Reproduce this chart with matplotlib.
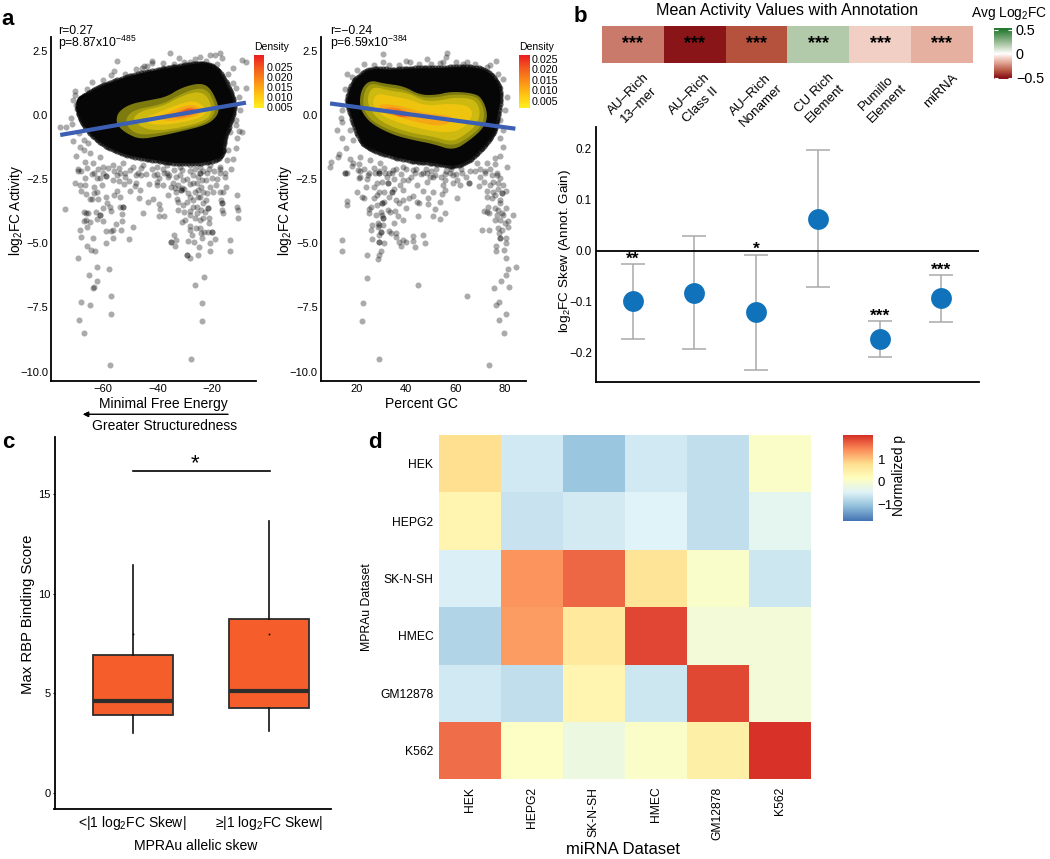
import numpy as np
import matplotlib
matplotlib.use("Agg")
import matplotlib.pyplot as plt
from matplotlib.colors import LinearSegmentedColormap, Normalize

plt.rcParams['font.family'] = ['Liberation Sans', 'DejaVu Sans']
plt.rcParams['mathtext.default'] = 'regular'

W, H = 1050, 859

# panel a, left : minimal free energy
mfe_points = [(-74.0,-3.66),(-70.5,-2.64),(-68.4,-2.73),(-66.5,-2.74),(-68.2,-2.95),(-66.2,-3.09),(-65.0,-3.26),(-64.2,-3.26),
    (-61.8,-3.29),(-67.2,-3.78),(-66.2,-3.81),(-65.5,-3.83),(-62.6,-3.79),(-61.1,-3.91),(-61.1,-3.91),(-60.1,-3.64),(-58.4,-3.44),
    (-57.6,-3.57),(-56.9,-3.76),(-53.6,-3.60),(-52.5,-3.60),(-52.5,-3.60),(-53.2,-3.87),(-52.9,-4.13),(-55.1,-4.25),(-53.5,-4.47),
    (-48.8,-4.38),(-50.4,-4.84),(-56.4,-4.80),(-58.9,-5.00),(-58.9,-4.52),(-57.0,-4.51),(-56.2,-4.50),(-60.2,-4.13),(-62.3,-4.07),
    (-65.0,-4.19),(-66.0,-4.38),(-67.2,-4.12),(-66.4,-4.08),(-68.4,-4.50),(-68.3,-4.77),(-63.8,-4.81),(-66.1,-5.11),(-64.4,-5.26),
    (-62.8,-5.32),(-69.1,-5.58),(-62.1,-5.93),(-57.9,-6.02),(-65.1,-6.23),(-62.3,-6.47),(-63.8,-6.75),(-63.3,-6.71),(-56.9,-7.05),
    (-68.0,-7.28),(-64.9,-7.41),(-57.0,-7.75),(-68.8,-8.01),(-67.2,-8.49),(-57.3,-9.75),(-45.4,-3.82),(-46.7,-3.24),(-43.3,-3.39),
    (-41.7,-3.26),(-39.3,-3.48),(-39.1,-3.66),(-39.3,-3.95),(-37.5,-3.93),(-46.2,-2.94),(-50.2,-2.98),(-52.2,-2.68),(-54.8,-2.96),
    (-56.0,-3.12),(-59.0,-3.18),(-53.7,-3.20),(-60.5,-2.72),(-63.2,-2.82),(-62.3,-2.99),(-63.5,-3.05),(-66.6,-2.46),(-56.2,-2.53),
    (-54.1,-2.57),(-50.5,-2.56),(-48.4,-2.77),(-47.9,-2.64),(-43.0,-2.70),(-40.0,-2.60),(-40.2,-2.73),(-38.0,-2.73),(-39.2,-2.47),
    (-36.5,-2.25),(-35.5,-2.35),(-37.4,-2.27),(-41.4,-2.33),(-47.3,-2.25),(-46.1,-2.34),(-51.9,-2.25),(-53.7,-2.27),(-54.9,-2.33),
    (-59.1,-2.36),(-59.1,-2.36),(-61.1,-2.47),(-62.3,-2.47),(-63.5,-2.25),(-69.1,-2.18),(-33.7,-4.69),(-35.0,-4.97),(-35.0,-4.97),
    (-33.2,-4.89),(-33.4,-5.11),(-28.7,-4.90),(-26.6,-4.95),(-24.6,-5.13),(-25.1,-5.45),(-29.2,-5.46),(-29.2,-5.46),(-28.0,-5.59),
    (-20.6,-5.00),(-18.8,-4.83),(-20.6,-5.30),(-13.3,-4.89),(-13.3,-5.30),(-22.8,-6.33),(-26.2,-6.62),(-23.4,-7.32),(-23.4,-8.02),
    (-27.4,-9.52),(-10.6,-3.13),(-10.6,-3.57),(-10.1,-3.70),(-10.1,-4.03),(-15.6,-3.83),(-16.3,-3.70),(-16.3,-3.44),(-16.3,-3.44),
    (-16.6,-3.31),(-15.6,-3.02),(-16.9,-2.99),(-14.8,-2.82),(-18.3,-2.74),(-19.3,-2.99),(-32.2,-3.70),(-30.1,-3.77),(-27.9,-3.73),
    (-30.4,-3.51),(-32.2,-3.38),(-32.8,-3.29),(-31.4,-2.92),(-31.4,-2.92),(-31.0,-2.86),(-34.1,-2.64),(-33.4,-2.86),(-27.9,-3.18),
    (-26.7,-3.31),(-25.5,-3.57),(-23.0,-3.44),(-21.2,-3.64),(-21.2,-3.64),(-22.4,-3.77),(-25.5,-3.83),(-29.8,-4.09),(-31.0,-4.16),
    (-27.9,-4.33),(-27.9,-4.48),(-25.8,-4.42),(-24.2,-4.42),(-20.9,-4.22),(-23.0,-4.03),(-24.2,-4.09),(-27.3,-4.68),(-23.6,-4.81),
    (-24.0,-4.61),(-22.8,-4.55),(-21.2,-4.55),(-19.7,-4.55),(-19.7,-4.55),(-21.8,-3.05),(-20.6,-2.79),(-24.2,-2.27),(-24.2,-2.27),
    (-25.5,-2.66),(-24.9,-2.92),(-24.2,-3.18),(-28.5,-3.05),(-30.4,-2.53),(-32.2,-2.73),(-31.6,-2.34),(-23.6,-2.53),(-26.7,-2.34),
    (-21.8,-2.27),(-16.9,-2.27),(-15.0,-2.25),(-75.8,-0.48),(-73.8,-0.46),(-71.5,-0.37),(-70.3,0.95),(-70.3,0.78),(-68.5,0.58),
    (-68.5,0.32),(-69.5,0.22),(-67.9,0.0),(-55.0,2.09),(-55.9,1.71),(-45.8,1.84),(-43.9,1.91),(-41.8,2.10),(-41.8,2.02),(-37.8,2.01),
    (-35.3,2.40),(-32.0,2.21),(-27.9,2.05),(-24.3,2.27),(-20.6,2.34),(-18.7,2.34),(-16.9,2.40),(-16.3,2.21),(-12.0,1.84),(-8.7,2.14),
    (-7.3,2.05),(-11.0,1.06),(-7.3,1.06),(-12.0,0.58),(-9.8,-0.61),(-8.7,-0.65),(-13.2,-0.65),(-14.4,-0.39),(-10.8,-0.20),(-67.2,-0.98),
    (-65.4,-1.11),(-68.5,-1.24),(-67.2,-1.37),(-66.6,-1.82),(-69.1,-2.11),(-61.1,-1.63),(-63.6,-1.89),(-59.9,-2.02),(-56.2,-1.95),
    (-52.5,-1.89),(-48.8,-2.02),(-45.1,-1.95),(-40.2,-2.02),(-36.5,-1.95),(-31.6,-2.02),(-27.9,-1.95),(-24.3,-2.02),(-20.6,-1.95),
    (-16.9,-2.02),(-14.4,-1.76),(-13.8,-1.37),(-64.8,-1.50)]
mfe_dense = [(-68,-2.2),(-66,-2.05),(-64,-2.3),(-62,-2.1),(-60,-2.25),(-58,-2.05),(-56,-2.2),(-54,-2.05),(-52,-2.4),(-50,-2.15),(-48,-2.35),
    (-46,-2.05),(-44,-2.3),(-42,-2.1),(-40,-2.3),(-38,-2.1),(-36,-2.4),(-34,-2.15),(-33,-2.4),(-31,-2.15),(-29,-2.5),(-28,-2.2),(-27,-2.65),
    (-26,-2.1),(-25,-2.4),(-24,-2.8),(-23,-2.2),(-22,-2.55),(-21,-2.1),(-20,-2.45),(-19,-2.2),(-18,-2.5),(-17,-2.1),(-15,-2.4),(-13,-2.1),
    (-12,-1.7),(-11,-1.3),(-10.5,-0.9),(-70,-1.6),(-71,-1.0),(-69,-0.7),(-72,-0.1),(-70,0.4),(-71,0.6),(-66,1.0),(-64,1.3),(-60,1.35),(-57,1.55),
    (-52,1.6),(-48,1.8),(-45,1.9),(-38,1.85),(-34,2.0),(-30,2.05),(-26,2.2),(-22,2.1),(-18,2.0),(-14,1.6),(-12,1.25),(-10,0.7),(-9.5,0.2),(-11,-0.4),
    (-30,-2.9),(-28,-2.7),(-26,-3.0),(-29,-3.4),(-27,-3.6),(-25,-3.2),(-23,-3.0),(-22,-3.3),(-21,-4.0),(-26,-4.0),(-28,-3.9),(-24,-3.7),(-33,-3.0),
    (-35,-2.8),(-36,-3.1)]
mfe_fit_x = [-75.8, -7.3]
mfe_fit_y = [-0.78, 0.48]
mfe_cloud = [(-69.1,0.58),(-67.2,0.71),(-62.3,1.04),(-56.2,1.30),(-48.8,1.56),(-40.2,1.75),(-32.9,1.88),(-25.5,2.01),(-20.6,1.95),
    (-16.9,1.69),(-13.2,0.97),(-11.4,0.32),(-13.2,-0.33),(-15.7,-0.98),(-15.7,-1.63),(-23.0,-1.89),(-32.9,-1.89),(-40.2,-1.76),
    (-48.8,-1.63),(-56.2,-1.37),(-62.3,-0.98),(-66.6,-0.46),(-69.1,0.06)]
mfe_bands = [
    [(-55.2,-0.20),(-54.3,0.13),(-50.0,0.43),(-42.7,0.58),(-36.5,0.71),(-31.6,1.04),(-25.5,1.23),(-21.8,1.17),(-19.3,0.84),(-17.1,0.26),
     (-18.1,-0.07),(-21.8,-0.39),(-31.6,-0.65),(-39.0,-0.82),(-46.4,-0.95),(-51.3,-0.72),(-54.3,-0.46)],
    [(-52,-0.2),(-49,0.2),(-38,0.42),(-32,0.78),(-25.5,1.05),(-21.5,0.98),(-19,0.5),(-18.5,0.15),(-20.5,-0.2),(-25,-0.42),(-33,-0.6),(-40,-0.72),
     (-46,-0.78),(-50,-0.6)],
    [(-48.8,-0.07),(-45.1,0.19),(-37.8,0.35),(-31.6,0.71),(-25.5,0.92),(-21.8,0.78),(-19.8,0.3),(-20.6,-0.07),(-24.3,-0.30),(-32.9,-0.52),
     (-40.2,-0.61),(-45.1,-0.52),(-48.2,-0.26)],
    [(-45.1,-0.13),(-39.0,0.13),(-32.9,0.39),(-26.7,0.58),(-22.4,0.32),(-21.8,0.06),(-25.5,-0.17),(-34.1,-0.35),(-40.2,-0.39),(-43.9,-0.30)],
    [(-40.2,-0.13),(-34.1,0.19),(-27.9,0.43),(-23.6,0.26),(-24.3,0.0),(-29.2,-0.13),(-35.3,-0.26)],
    [(-35.3,-0.07),(-31.0,0.22),(-26.7,0.32),(-24.5,0.17),(-26.7,0.0),(-31.6,-0.13)],
    [(-31.6,0.09),(-28.6,0.27),(-25.5,0.19),(-27.3,0.04),(-29.8,0.0)],
]

# panel a, right : percent GC
gc_points = [(13.9,-4.89),(14.1,-5.30),(23.9,-5.45),(28.6,-5.60),(28.9,-5.46),(29.9,-5.29),(30.9,-5.00),(28.8,-4.94),(28.8,-4.94),(25.9,-4.84),
    (25.8,-4.48),(25.9,-4.30),(28.4,-4.38),(29.0,-4.68),(29.7,-4.55),(29.7,-4.55),(30.7,-4.29),(33.0,-4.54),(33.8,-4.59),(35.8,-4.61),(35.8,-4.74),
    (36.9,-4.97),(37.7,-5.11),(38.8,-4.87),(39.7,-4.94),(42.7,-4.72),(42.7,-4.90),(43.6,-5.15),(46.6,-4.69),(47.7,-4.98),(23.9,-6.34),(44.7,-6.62),
    (64.6,-7.05),(22.6,-7.32),(21.9,-8.02),(29.0,-9.51),(73.4,-9.75),(76.3,-7.41),(77.4,-7.28),(75.5,-6.75),(78.5,-6.47),(81.5,-6.69),(80.4,-6.23),
    (81.3,-6.02),(84.3,-5.93),(80.4,-7.75),(77.4,-8.01),(79.4,-8.49),(80.4,-5.59),(79.4,-5.26),(80.4,-5.00),(80.4,-4.81),(76.5,-5.11),(76.5,-5.32),
    (78.0,-4.81),(78.0,-4.81),(78.6,-4.48),(77.3,-4.42),(70.5,-4.50),(73.5,-4.48),(81.3,-4.38),(80.0,-4.22),(81.3,-4.12),(83.4,-3.90),(75.9,-4.09),
    (76.6,-3.90),(78.6,-3.83),(80.4,-3.61),(78.0,-3.44),(75.9,-3.64),(73.2,-3.57),(71.5,-3.73),(72.6,-3.77),(73.5,-3.81),(72.6,-3.18),(72.6,-2.95),
    (69.6,-2.76),(71.5,-2.60),(73.9,-2.73),(77.3,-2.66),(79.3,-2.73),(80.4,-2.95),(78.6,-3.05),(78.6,-3.05),(75.3,-2.99),(74.6,-3.25),(74.6,-2.34),
    (71.9,-2.25),(76.6,-2.34),(78.0,-2.47),(16.1,-3.34),(15.9,-3.50),(19.9,-2.99),(21.9,-3.18),(23.0,-3.25),(24.9,-3.68),(25.0,-3.83),(25.8,-3.60),
    (26.9,-3.24),(23.5,-2.79),(23.9,-2.51),(20.9,-2.47),(15.1,-2.25),(15.8,-2.25),(21.2,-2.18),(24.6,-2.34),(27.3,-2.27),(29.0,-2.25),(29.0,-2.25),
    (31.3,-2.27),(34.0,-2.25),(32.7,-2.66),(32.7,-2.66),(34.0,-2.99),(34.0,-2.99),(30.0,-3.44),(30.0,-3.44),(29.7,-3.77),(30.7,-4.03),(30.7,-4.03),
    (28.6,-4.20),(32.7,-3.70),(33.4,-3.77),(35.4,-3.73),(36.7,-3.93),(38.5,-4.09),(35.0,-4.20),(37.0,-3.44),(38.8,-3.31),(39.9,-3.64),(41.2,-3.25),
    (42.8,-3.16),(44.2,-3.40),(45.3,-3.42),(44.7,-3.93),(50.7,-3.95),(53.6,-4.07),(55.5,-3.82),(51.6,-3.67),(53.6,-3.39),(48.6,-3.48),(48.6,-3.25),
    (50.7,-3.01),(46.9,-2.95),(54.6,-3.08),(55.7,-2.92),(60.5,-3.22),(55.7,-2.53),(59.0,-2.34),(62.4,-2.25),(65.5,-2.66),(61.7,-2.73),(59.0,-2.66),
    (51.6,-2.34),(49.6,-2.40),(48.2,-2.60),(44.2,-2.73),(40.8,-2.53),(37.4,-2.73),(38.8,-2.92),(43.5,-2.27),(46.9,-2.25),(55.7,-2.30),
    (30.7,2.36),(56.4,2.40),(56.0,2.27),(48.2,2.19),(41.5,2.05),(53.6,2.01),(64.5,2.08),(65.8,1.88),(76.3,2.10),(72.6,1.88),(78.0,1.04),(80.7,0.71),
    (17.8,1.47),(19.2,1.36),(24.6,1.75),(30.7,2.08),(15.8,0.58),(13.5,-0.13),(13.8,-0.26),(12.8,-1.52),(12.4,-1.63),(9.5,-1.82),(9.1,-2.02),
    (15.1,-2.25),(20.5,-2.15),(18.5,-1.89),(21.2,-1.63),(18.5,-0.98),(17.2,-0.59),(79.3,-1.24),(75.9,-1.69),(76.6,-2.28),(80.7,-2.02),(72.6,-1.89),
    (68.5,-1.89),(65.5,-2.67),(69.9,-2.41),(60.4,-2.54),(55.0,-2.73),(48.2,-2.28),(42.8,-2.15),(38.8,-2.02),(34.7,-2.15),(29.3,-1.89),(25.3,-1.76),
    (21.2,-2.41),(28.0,-2.67),(32.0,-2.41),(38.8,-2.54),(51.0,-2.41),(57.7,-2.28),(78.0,-0.20)]
gc_dense = [(12,-0.6),(14,0.2),(15,1.0),(16,1.6),(20,1.75),(23,2.0),(27,1.95),(33,1.95),(37,1.95),(40,2.1),(45,2.0),(50,2.0),(55,2.05),(60,2.05),
    (63,2.0),(68,2.0),(74,1.95),(77,1.6),(79,1.4),(80,0.2),(79,-0.6),(78,-0.9),(14,-0.9),(15.5,-1.3),(17,-1.7),(18,-2.0),(21,-1.9),(23,-2.1),(25,-2.25),
    (27,-2.05),(29,-2.2),(31,-2.05),(33,-2.25),(35,-2.5),(36,-2.1),(38,-2.3),(40,-2.1),(42,-2.4),(44,-2.1),(46,-2.3),(48,-2.1),(50,-2.2),(52,-2.1),
    (54,-2.4),(56,-2.2),(58,-2.1),(60,-2.3),(62,-2.1),(64,-2.4),(66,-2.2),(68,-2.2),(70,-2.1),(72,-2.2),(74,-2.1),(76,-1.9),(78,-1.6),(27,-2.8),(28,-3.1),
    (29,-3.0),(30,-2.6),(31,-3.0),(28,-3.5),(30,-3.9),(27.5,-3.9),(29,-4.3),(31,-3.4),(33,-3.2),(35,-2.9),(36,-3.3),(75,-2.6),(76,-3.1),(77,-2.9),
    (78,-3.3),(77,-3.7),(78,-4.1),(79,-3.9),(77.5,-4.6)]
gc_fit_x = [9.07, 84.2]
gc_fit_y = [0.45, -0.535]
gc_cloud = [(15.8,0.58),(18.5,1.36),(25.3,1.82),(34.7,1.75),(42.8,1.82),(52.3,1.82),(61.8,1.88),(71.2,1.82),(76.6,1.36),(78.6,0.71),(76.6,-0.20),
    (75.3,-0.72),(71.2,-1.24),(65.8,-1.76),(59.1,-2.02),(50.9,-1.86),(42.8,-1.80),(33.4,-1.60),(25.3,-1.30),(21.2,-1.00),(17.8,-0.07)]
gc_bands = [
    [(20.9,0.45),(21.9,1.04),(25.3,1.36),(30.7,1.23),(38.8,1.13),(45.5,0.78),(52.3,0.78),(57.7,0.91),(65.8,0.87),(70.5,0.71),(73.2,0.0),(71.2,-0.52),
     (65.8,-0.98),(59.1,-1.39),(50.9,-1.13),(42.8,-0.98),(34.7,-0.78),(26.6,-0.39),(22.6,0.0)],
    [(22.3,0.45),(23.2,1.0),(26,1.25),(31,1.1),(39,1.0),(46,0.68),(52.5,0.68),(58,0.8),(66,0.78),(70,0.6),(72,0),(70,-0.5),(65,-0.9),(59,-1.22),(51,-1.0),
     (43,-0.87),(35,-0.66),(27,-0.3),(23.5,0.05)],
    [(24,0.45),(25,0.95),(27.5,1.1),(33,0.95),(41,0.85),(47,0.55),(53,0.55),(59,0.68),(66,0.65),(69,0.45),(70,0),(68,-0.45),(63,-0.82),(58.5,-1.05),(51,-0.85),
     (43,-0.72),(35,-0.5),(28,-0.15)],
    [(26,0.45),(28,0.85),(33,0.75),(41,0.62),(48,0.35),(58,0.45),(66,0.35),(67,-0.1),(62,-0.6),(55,-0.7),(45,-0.52),(35,-0.25),(29,0.05)],
    [(28.5,0.4),(33,0.42),(40,0.3),(48,0.05),(57,0.0),(60,-0.2),(54,-0.45),(45,-0.3),(36,-0.05),(30,0.1)],
    [(31,0.28),(36,0.3),(43,0.02),(41,-0.12),(36,-0.04),(32,0.1)],
    [(33,0.2),(37,0.2),(41,0.03),(39.5,-0.08),(36,-0.04)],
]
band_colors = ['#7d7a10', '#a59d0e', '#cdb90f', '#eec40f', '#f6a814', '#f58020', '#ec5a22']
density_ticks = [0.005, 0.010, 0.015, 0.020, 0.025]

# panel b
annotations = ['AU\u2013Rich\n13\u2013mer', 'AU\u2013Rich\nClass II', 'AU\u2013Rich\nNonamer', 'CU Rich\nElement', 'Pumillo\nElement', 'miRNA']
mean_activity = [-0.28, -0.50, -0.37, 0.18, -0.10, -0.17]
skew_mean = [-0.099, -0.082, -0.120, 0.063, -0.173, -0.093]
skew_upper = [-0.025, 0.029, -0.007, 0.198, -0.137, -0.047]
skew_lower = [-0.173, -0.193, -0.234, -0.071, -0.208, -0.140]
skew_stars = ['**', '', '*', '', '***', '***']

# panel c
box_labels = ['<|1 log$_2$FC Skew|', '\u2265|1 log$_2$FC Skew|']
box_low = [3.02, 3.10]
box_q1 = [3.90, 4.24]
box_median = [4.62, 5.09]
box_q3 = [6.92, 8.73]
box_high = [11.41, 13.62]
box_dot = [7.99, 7.99]

# panel d
datasets = ['HEK', 'HEPG2', 'SK-N-SH', 'HMEC', 'GM12878', 'K562']
norm_p = [
    [0.80, -0.59, -1.02, -0.59, -0.73, 0.06],
    [0.36, -0.67, -0.58, -0.47, -0.73, -0.37],
    [-0.52, 1.38, 1.69, 0.72, 0.03, -0.63],
    [-0.85, 1.32, 0.61, 1.92, -0.11, -0.11],
    [-0.59, -0.73, 0.36, -0.63, 1.90, -0.11],
    [1.65, 0.10, -0.20, 0.06, 0.48, 2.05],
]


def box(left, top, right, bottom):
    return [left / W, 1 - bottom / H, (right - left) / W, (bottom - top) / H]


def put(x, y, s, **kw):
    kw.setdefault('ha', 'center')
    kw.setdefault('va', 'center')
    return fig.text(x / W, 1 - y / H, s, **kw)


def smooth(outline, rounds=2):
    # coins arrondis (Chaikin)
    pts = np.array(outline)
    for _ in range(rounds):
        nxt = np.roll(pts, -1, axis=0)
        pts = np.column_stack([0.75 * pts + 0.25 * nxt, 0.25 * pts + 0.75 * nxt]).reshape(-1, 2)
    return pts


def clean(ax, lw=1.3):
    ax.spines['top'].set_visible(False)
    ax.spines['right'].set_visible(False)
    ax.spines['left'].set_linewidth(lw)
    ax.spines['bottom'].set_linewidth(lw)


def scatter_panel(rect, xlim, xticks, points, cloud, bands, fit_x, fit_y):
    ax = fig.add_axes(box(*rect))
    pts = smooth(cloud)
    ax.fill(pts[:, 0], pts[:, 1], color='#060606', lw=0, zorder=2)
    # bord du nuage : points serres
    edge = smooth(cloud, 3)
    ax.scatter(edge[:, 0], edge[:, 1], s=20, color='black', alpha=0.6, linewidths=0, zorder=1)
    arr = np.array(points)
    ax.scatter(arr[:, 0], arr[:, 1], s=19, color='black', alpha=0.33, linewidths=0, zorder=1)
    for outline, col in zip(bands, band_colors):
        pts = smooth(outline)
        ax.fill(pts[:, 0], pts[:, 1], color=col, lw=0, zorder=3)
    ax.plot(fit_x, fit_y, color='#3c5fb4', lw=3.0, solid_capstyle='butt', zorder=4)
    ax.set_xlim(*xlim)
    ax.set_ylim(-10.37, 3.04)
    ax.set_xticks(xticks)
    ax.set_yticks([2.5, 0, -2.5, -5, -7.5, -10])
    ax.set_yticklabels(['2.5', '0.0', '\u22122.5', '\u22125.0', '\u22127.5', '\u221210.0'])
    ax.tick_params(length=0, labelsize=8, pad=2)
    clean(ax)
    return ax


def density_key(rect, low, high, ticks):
    cax = fig.add_axes(box(*rect))
    grad = np.linspace(0, 1, 128)[:, None]
    cax.imshow(grad, extent=[0, 1, low, high], origin='lower', aspect='auto', cmap=density_cmap)
    cax.set_xticks([])
    cax.yaxis.tick_right()
    cax.set_yticks(ticks)
    cax.set_yticklabels(['%.3f' % t for t in ticks])
    cax.tick_params(length=0, labelsize=7.7, pad=2)
    for s in cax.spines.values():
        s.set_visible(False)


density_cmap = LinearSegmentedColormap.from_list('dens', ['#fff01e', '#ffc414', '#fb9018', '#f45c1e', '#ec1c24'])

fig = plt.figure(figsize=(W / 100, H / 100), dpi=100)

# a
scatter_panel((51, 37, 256, 381), (-79.2, -3.6), [-60, -40, -20], mfe_points + mfe_dense, mfe_cloud, mfe_bands, mfe_fit_x, mfe_fit_y)
scatter_panel((320.5, 37, 526, 381), (5.2, 88.5), [20, 40, 60, 80], gc_points + gc_dense, gc_cloud, gc_bands, gc_fit_x, gc_fit_y)
density_key((254, 55, 264, 108), 0.0047, 0.0308, density_ticks)
density_key((518.7, 55, 529.3, 108), 0.0017, 0.0267, density_ticks)
put(254, 47, 'Density', ha='left', fontsize=7.5)
put(518.7, 47, 'Density', ha='left', fontsize=7.5)
put(58.3, 30.5, 'r=0.27', ha='left', fontsize=8.8)
put(58.3, 42.5, 'p=8.87x10$^{-485}$', ha='left', fontsize=8.8)
put(330, 30.5, 'r=\u22120.24', ha='left', fontsize=8.8)
put(330, 42.5, 'p=6.59x10$^{-384}$', ha='left', fontsize=8.8)
put(16.5, 210, 'log$_2$FC Activity', rotation=90, fontsize=9.8)
put(285.5, 210, 'log$_2$FC Activity', rotation=90, fontsize=9.8)
put(163, 404, 'Minimal Free Energy', fontsize=10)
put(165, 426.5, 'Greater Structuredness', fontsize=10)
put(421, 404, 'Percent GC', fontsize=10)
fig.add_artist(plt.annotate('', xy=(83 / W, 1 - 414.3 / H), xytext=(228 / W, 1 - 414.3 / H), xycoords='figure fraction',
                            textcoords='figure fraction', arrowprops=dict(arrowstyle='-|>', color='black', lw=0.8, mutation_scale=8, shrinkA=0, shrinkB=0)))

# b
heat_cmap = LinearSegmentedColormap.from_list('gr', [(0, '#8a1518'), (0.13, '#b5523e'), (0.22, '#c97a6a'), (0.33, '#e6b0a0'), (0.40, '#f2cfc5'),
                                                     (0.5, '#ffffff'), (0.68, '#b3cbab'), (1, '#267a32')])
heat_norm = Normalize(-0.5, 0.5)
ax = fig.add_axes(box(602, 26, 972.7, 63.3))
ax.pcolormesh([mean_activity], cmap=heat_cmap, norm=heat_norm, edgecolors='none')
for i, name in enumerate(annotations):
    ax.text(i + 0.5, 0.53, '***', ha='center', va='center', fontsize=13, fontweight='bold')
    ax.annotate(name, xy=(i + 0.5, 0), xycoords=('data', 'axes fraction'), xytext=(7, -6), textcoords='offset points',
                rotation=45, ha='right', va='top', rotation_mode='anchor', multialignment='center', fontsize=9.6, linespacing=1.3)
ax.set_xticks([])
ax.set_yticks([])
for s in ax.spines.values():
    s.set_visible(False)

cax = fig.add_axes(box(994, 28.3, 1011.7, 79.3))
cax.imshow(np.linspace(-0.53, 0.53, 128)[:, None], extent=[0, 1, -0.53, 0.53], origin='lower', aspect='auto', cmap=heat_cmap, norm=heat_norm)
cax.hlines([-0.5, 0, 0.5], 0, 0.2, color='white', lw=0.8)
cax.hlines([-0.5, 0, 0.5], 0.8, 1, color='white', lw=0.8)
cax.set_xlim(0, 1)
cax.set_xticks([])
cax.yaxis.tick_right()
cax.set_yticks([-0.5, 0, 0.5])
cax.set_yticklabels(['\u22120.5', '0', '0.5'])
cax.tick_params(length=0, labelsize=10.4, pad=3)
for s in cax.spines.values():
    s.set_visible(False)
put(786.7, 10, 'Mean Activity Values with Annotation', fontsize=11.6)
put(1009, 13, 'Avg Log$_2$FC', fontsize=9.9)

ax = fig.add_axes(box(596, 126.7, 979.3, 381.7))
pos = np.arange(1, 7)
ax.errorbar(pos, skew_mean, yerr=[np.array(skew_mean) - np.array(skew_lower), np.array(skew_upper) - np.array(skew_mean)],
            fmt='none', ecolor='#a9a9ab', elinewidth=1.1, capsize=8.8, capthick=1.1, zorder=2)
ax.axhline(0, color='black', lw=1.3, zorder=3)
ax.plot(pos, skew_mean, 'o', ms=15, color='#0f72ba', mec='none', zorder=4)
for p, up, st in zip(pos, skew_upper, skew_stars):
    if st:
        ax.annotate(st, xy=(p, up), xytext=(0, 3.5), textcoords='offset points', ha='center', va='center', fontsize=12.5, fontweight='bold')
ax.set_xlim(0.405, 6.616)
ax.set_ylim(-0.2563, 0.2437)
ax.set_xticks([])
ax.set_yticks([-0.2, -0.1, 0, 0.1, 0.2])
ax.set_yticklabels(['\u22120.2', '\u22120.1', '0.0', '0.1', '0.2'])
ax.tick_params(length=0, labelsize=8.4, pad=3)
clean(ax)
put(565, 251, 'log$_2$FC Skew (Annot. Gain)', rotation=90, fontsize=9.7)

# c
ax = fig.add_axes(box(54.5, 437, 330.7, 809.3))
stats = [dict(whislo=box_low[i], q1=box_q1[i], med=box_median[i], q3=box_q3[i], whishi=box_high[i], fliers=[]) for i in range(2)]
ax.bxp(stats, positions=[1, 2], widths=0.585, patch_artist=True, showcaps=False, showfliers=False,
       boxprops=dict(facecolor='#f55d2a', edgecolor='#2d2d2d', linewidth=1.3),
       medianprops=dict(color='#2d2d2d', linewidth=3, solid_capstyle='butt'),
       whiskerprops=dict(color='#111111', linewidth=1.2))
ax.plot([1, 2], box_dot, 's', ms=1.2, color='black', mec='none', zorder=5)
ax.plot([1.003, 2.004], [16.17, 16.17], color='black', lw=1.2)
ax.text(1.455, 16.5, '*', ha='center', va='center', fontsize=16)
ax.set_xlim(0.428, 2.449)
ax.set_ylim(-0.834, 17.86)
ax.set_xticks([1, 2])
ax.set_xticklabels(box_labels, fontsize=10)
ax.set_yticks([0, 5, 10, 15])
ax.tick_params(axis='y', length=1.5, width=0.8, labelsize=8, pad=1.5)
ax.tick_params(axis='x', length=0, pad=3.5)
clean(ax)
put(28, 614, 'Max RBP Binding Score', rotation=90, fontsize=10.7)
put(196, 845.5, 'MPRAu allelic skew', fontsize=10.1)

# d
ax = fig.add_axes(box(439, 435, 810.7, 779.3))
rdylbu = LinearSegmentedColormap.from_list('rb', ['#4575b4', '#91bfdb', '#e0f3f8', '#ffffbf', '#fee090', '#fc8d59', '#d73027'])
p_norm = Normalize(-1.75, 2.07)
ax.pcolormesh(norm_p, cmap=rdylbu, norm=p_norm, edgecolors='none')
ax.invert_yaxis()
ax.set_xticks(np.arange(6) + 0.5)
ax.set_xticklabels(datasets, rotation=90, fontsize=8.7)
ax.set_yticks(np.arange(6) + 0.5)
ax.set_yticklabels(datasets, fontsize=8.7)
ax.tick_params(axis='x', length=0, pad=5.3)
ax.tick_params(axis='y', length=0, pad=4)
for s in ax.spines.values():
    s.set_visible(False)
put(367, 607, 'MPRAu Dataset', rotation=90, fontsize=8.8)
put(623, 849, 'miRNA Dataset', fontsize=12)

cax = fig.add_axes(box(842.7, 435, 872.3, 521))
cax.imshow(np.linspace(-1.75, 2.07, 128)[:, None], extent=[0, 1, -1.75, 2.07], origin='lower', aspect='auto', cmap=rdylbu, norm=p_norm)
cax.set_xticks([])
cax.yaxis.tick_right()
cax.set_yticks([-1, 0, 1])
cax.set_yticklabels(['\u22121', '0', '1'])
cax.tick_params(length=0, labelsize=9.5, pad=4)
for s in cax.spines.values():
    s.set_visible(False)
put(899, 476, 'Normalized p', rotation=90, fontsize=9.9)

# lettres
put(8, 19.5, 'a', fontsize=16, fontweight='bold')
put(580, 16, 'b', fontsize=16, fontweight='bold')
put(8, 442, 'c', fontsize=16, fontweight='bold')
put(375, 442, 'd', fontsize=16, fontweight='bold')

fig.savefig('out.png', dpi=100)
